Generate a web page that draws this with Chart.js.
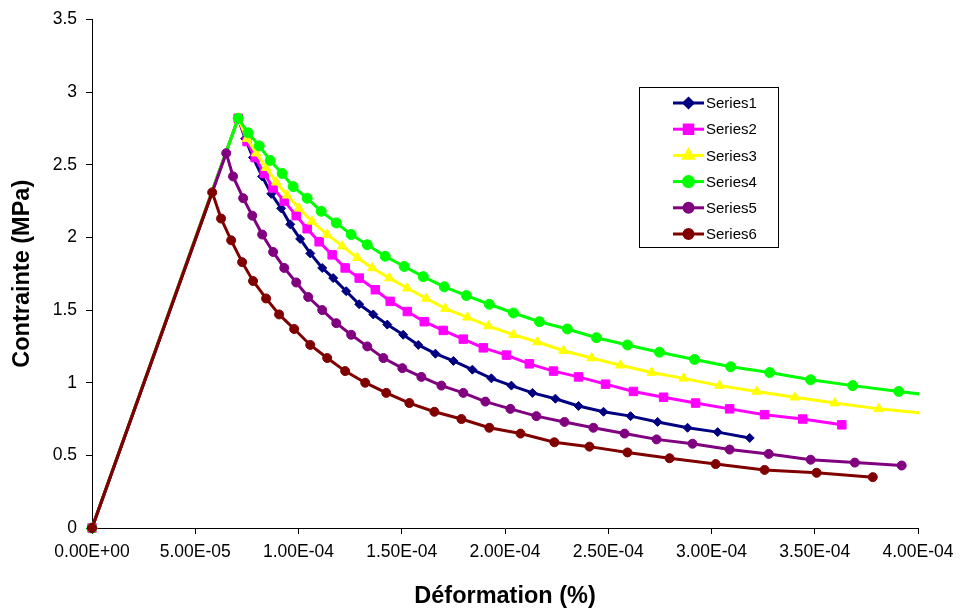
<!DOCTYPE html>
<html lang="fr">
<head>
<meta charset="UTF-8">
<script src="https://cdn.jsdelivr.net/npm/chart.js"></script>
<style>
  html, body { margin: 0; padding: 0; background: #fff; }
  #wrap { width: 962px; height: 612px; }
</style>
</head>
<body>
<div id="wrap"><canvas id="myChart" width="962" height="612"></canvas></div>
<script>
// values: strain (%) and stress (MPa)
const s1x = [0, 7.08e-5, 7.42e-5, 7.80e-5, 8.24e-5, 8.68e-5, 9.16e-5, 9.60e-5, 10.08e-5, 10.57e-5, 11.15e-5, 11.68e-5, 12.31e-5, 12.94e-5, 13.62e-5, 14.30e-5, 15.07e-5, 15.80e-5, 16.63e-5, 17.50e-5, 18.42e-5, 19.34e-5, 20.31e-5, 21.33e-5, 22.44e-5, 23.56e-5, 24.77e-5, 26.08e-5, 27.39e-5, 28.84e-5, 30.30e-5, 31.85e-5]
const s1y = [0, 2.82, 2.68, 2.55, 2.42, 2.30, 2.20, 2.09, 1.99, 1.89, 1.79, 1.72, 1.63, 1.54, 1.47, 1.40, 1.33, 1.26, 1.20, 1.15, 1.09, 1.03, 0.98, 0.93, 0.89, 0.84, 0.80, 0.77, 0.73, 0.69, 0.66, 0.62]

const s2x = [0, 7.08e-5, 7.51e-5, 7.90e-5, 8.34e-5, 8.77e-5, 9.31e-5, 9.89e-5, 10.42e-5, 11.00e-5, 11.63e-5, 12.26e-5, 12.94e-5, 13.72e-5, 14.44e-5, 15.27e-5, 16.09e-5, 17.01e-5, 17.98e-5, 18.95e-5, 20.07e-5, 21.18e-5, 22.35e-5, 23.56e-5, 24.87e-5, 26.22e-5, 27.68e-5, 29.23e-5, 30.88e-5, 32.57e-5, 34.42e-5, 36.31e-5]
const s2y = [0, 2.82, 2.66, 2.55, 2.44, 2.34, 2.25, 2.15, 2.06, 1.97, 1.88, 1.79, 1.72, 1.64, 1.56, 1.49, 1.42, 1.36, 1.30, 1.24, 1.19, 1.13, 1.08, 1.04, 0.99, 0.94, 0.90, 0.86, 0.82, 0.78, 0.75, 0.71]

const s3x = [0, 7.08e-5, 7.51e-5, 7.95e-5, 8.43e-5, 8.92e-5, 9.45e-5, 10.03e-5, 10.66e-5, 11.39e-5, 12.12e-5, 12.85e-5, 13.57e-5, 14.40e-5, 15.27e-5, 16.19e-5, 17.11e-5, 18.18e-5, 19.20e-5, 20.41e-5, 21.57e-5, 22.83e-5, 24.19e-5, 25.59e-5, 27.10e-5, 28.65e-5, 30.39e-5, 32.19e-5, 34.03e-5, 35.97e-5, 38.10e-5, 40.33e-5]
const s3y = [0, 2.82, 2.68, 2.58, 2.48, 2.38, 2.29, 2.20, 2.11, 2.02, 1.94, 1.86, 1.79, 1.72, 1.65, 1.58, 1.51, 1.45, 1.39, 1.33, 1.28, 1.22, 1.17, 1.12, 1.07, 1.03, 0.98, 0.94, 0.90, 0.86, 0.82, 0.79]

const s4x = [0, 7.08e-5, 7.56e-5, 8.10e-5, 8.63e-5, 9.21e-5, 9.74e-5, 10.42e-5, 11.10e-5, 11.83e-5, 12.55e-5, 13.33e-5, 14.20e-5, 15.12e-5, 16.04e-5, 17.06e-5, 18.13e-5, 19.24e-5, 20.41e-5, 21.67e-5, 23.02e-5, 24.43e-5, 25.93e-5, 27.48e-5, 29.18e-5, 30.93e-5, 32.82e-5, 34.80e-5, 36.84e-5, 39.07e-5, 41.40e-5]
const s4y = [0, 2.82, 2.72, 2.63, 2.53, 2.44, 2.35, 2.27, 2.18, 2.10, 2.02, 1.95, 1.87, 1.80, 1.73, 1.66, 1.60, 1.54, 1.48, 1.42, 1.37, 1.31, 1.26, 1.21, 1.16, 1.11, 1.07, 1.02, 0.98, 0.94, 0.90]

const s5x = [0, 6.50e-5, 6.83e-5, 7.32e-5, 7.76e-5, 8.24e-5, 8.77e-5, 9.31e-5, 9.89e-5, 10.47e-5, 11.15e-5, 11.83e-5, 12.55e-5, 13.33e-5, 14.11e-5, 15.03e-5, 15.95e-5, 16.92e-5, 17.98e-5, 19.05e-5, 20.26e-5, 21.52e-5, 22.88e-5, 24.28e-5, 25.79e-5, 27.34e-5, 29.08e-5, 30.88e-5, 32.77e-5, 34.80e-5, 36.94e-5, 39.21e-5]
const s5y = [0, 2.58, 2.42, 2.27, 2.15, 2.02, 1.90, 1.79, 1.69, 1.59, 1.50, 1.41, 1.33, 1.25, 1.17, 1.10, 1.04, 0.98, 0.93, 0.87, 0.82, 0.77, 0.73, 0.69, 0.65, 0.61, 0.58, 0.54, 0.51, 0.47, 0.45, 0.43]

const s6x = [0, 5.82e-5, 6.25e-5, 6.74e-5, 7.27e-5, 7.80e-5, 8.43e-5, 9.06e-5, 9.79e-5, 10.57e-5, 11.39e-5, 12.26e-5, 13.23e-5, 14.25e-5, 15.37e-5, 16.58e-5, 17.89e-5, 19.24e-5, 20.75e-5, 22.39e-5, 24.09e-5, 25.93e-5, 27.97e-5, 30.20e-5, 32.57e-5, 35.09e-5, 37.81e-5]
const s6y = [0, 2.31, 2.13, 1.98, 1.83, 1.70, 1.58, 1.47, 1.37, 1.26, 1.17, 1.08, 1.00, 0.93, 0.86, 0.80, 0.75, 0.69, 0.65, 0.59, 0.56, 0.52, 0.48, 0.44, 0.40, 0.38, 0.35]

const seriesNames = ['Series1', 'Series2', 'Series3', 'Series4', 'Series5', 'Series6']
const xTickValues = [0, 5e-5, 1e-4, 1.5e-4, 2e-4, 2.5e-4, 3e-4, 3.5e-4, 4e-4]
const xTickLabels = ['0.00E+00', '5.00E-05', '1.00E-04', '1.50E-04', '2.00E-04', '2.50E-04', '3.00E-04', '3.50E-04', '4.00E-04']
const yTickValues = [0, 0.5, 1, 1.5, 2, 2.5, 3, 3.5]
const yTickLabels = ['0', '0.5', '1', '1.5', '2', '2.5', '3', '3.5']

const colors = ['#000080', '#FF00FF', '#FFFF00', '#00FF00', '#800080', '#800000']
const markers = ['rectRot', 'rect', 'triangle', 'circle', 'circle', 'circle']
const markerSizes = [4.5, 6, 5.5, 5, 4.5, 4.5]

function pairs(xs, ys) {
    return xs.map((x, i) => ({x: x, y: ys[i]}))
}

const allX = [s1x, s2x, s3x, s4x, s5x, s6x]
const allY = [s1y, s2y, s3y, s4y, s5y, s6y]

const datasets = seriesNames.map((name, i) => ({
    label: name,
    data: pairs(allX[i], allY[i]),
    borderColor: colors[i],
    backgroundColor: colors[i],
    borderWidth: 3,
    pointStyle: markers[i],
    pointRadius: markerSizes[i],
    pointBorderWidth: 1,
    pointBorderColor: colors[i],
    pointBackgroundColor: colors[i],
    tension: 0,
    order: 5 - i,
    clip: {left: 8, top: 8, right: 1, bottom: 8}
}))

// legend box drawn inside the plot, like the original
const boxLegend = {
    id: 'boxLegend',
    afterDraw(chart) {
        const ctx = chart.ctx
        const left = 639, top = 87, w = 139, h = 160
        ctx.save()
        ctx.fillStyle = '#fff'
        ctx.fillRect(left, top, w, h)
        ctx.strokeStyle = '#000'
        ctx.lineWidth = 1
        ctx.strokeRect(left + 0.5, top + 0.5, w, h)
        chart.data.datasets.forEach((ds, i) => {
            const y = 103 + i * 26.2
            ctx.strokeStyle = ds.borderColor
            ctx.lineWidth = 3
            ctx.beginPath()
            ctx.moveTo(673, y)
            ctx.lineTo(704, y)
            ctx.stroke()
            ctx.fillStyle = ds.backgroundColor
            Chart.helpers.drawPoint(ctx, {pointStyle: ds.pointStyle, radius: ds.pointRadius, rotation: 0, borderWidth: 1}, 688.5, y)
            ctx.fillStyle = '#000'
            ctx.font = '15px "Liberation Sans", Arial, sans-serif'
            ctx.textBaseline = 'middle'
            ctx.textAlign = 'left'
            ctx.fillText(ds.label, 706, y + 1)
        })
        ctx.restore()
    }
}

const ctx = document.getElementById('myChart')
new Chart(ctx, {
    type: 'line',
    data: { datasets: datasets },
    plugins: [boxLegend],
    options: {
        responsive: false,
        animation: false,
        layout: { padding: { left: 0, right: 44, top: 18, bottom: 0 } },
        plugins: {
            legend: { display: false },
            tooltip: { enabled: false }
        },
        scales: {
            x: {
                type: 'linear',
                min: 0,
                max: 4e-4,
                afterBuildTicks: s => { s.ticks = xTickValues.map(v => ({value: v})) },
                afterFit: s => { s.height = 84 },
                grid: { drawOnChartArea: false, drawTicks: true, tickLength: 6, color: '#000' },
                border: { display: true, color: '#000', width: 1 },
                ticks: {
                    color: '#000',
                    padding: 8,
                    maxRotation: 0,
                    autoSkip: false,
                    font: { family: '"Liberation Sans", Arial, sans-serif', size: 17.5 },
                    callback: (v, i) => xTickLabels[i]
                },
                title: {
                    display: true,
                    text: 'Déformation (%)',
                    color: '#000',
                    padding: { top: 0, bottom: 1 },
                    font: { family: '"Liberation Sans", Arial, sans-serif', size: 23.5, weight: 'bold' }
                }
            },
            y: {
                min: 0,
                max: 3.5,
                afterBuildTicks: s => { s.ticks = yTickValues.map(v => ({value: v})) },
                afterFit: s => { s.width = 92 },
                grid: { drawOnChartArea: false, drawTicks: true, tickLength: 6, color: '#000' },
                border: { display: true, color: '#000', width: 1 },
                ticks: {
                    color: '#000',
                    padding: 9,
                    autoSkip: false,
                    font: { family: '"Liberation Sans", Arial, sans-serif', size: 17.5 },
                    callback: (v, i) => yTickLabels[i]
                },
                title: {
                    display: true,
                    text: 'Contrainte (MPa)',
                    color: '#000',
                    padding: { top: 8, bottom: 0 },
                    font: { family: '"Liberation Sans", Arial, sans-serif', size: 23.5, weight: 'bold' }
                }
            }
        }
    }
})
</script>
</body>
</html>
